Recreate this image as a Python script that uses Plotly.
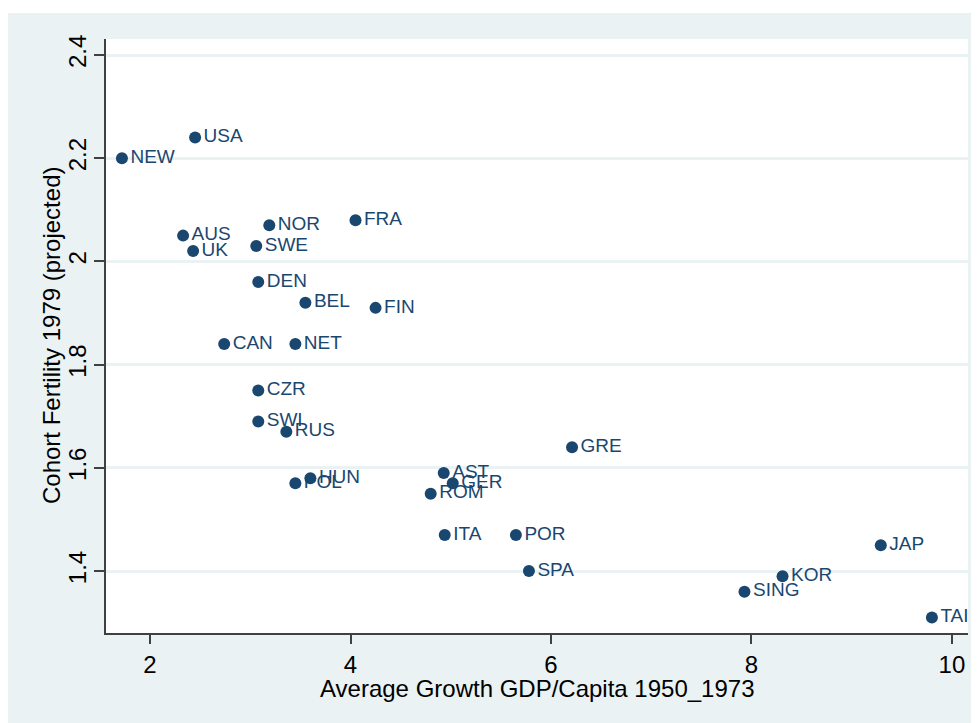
import plotly.graph_objects as go

# country codes and values
countries = ['NEW', 'USA', 'AUS', 'UK', 'NOR', 'SWE', 'FRA', 'DEN', 'BEL', 'FIN',
             'CAN', 'NET', 'CZR', 'SWI', 'RUS', 'HUN', 'POL', 'AST', 'GER', 'ROM',
             'ITA', 'GRE', 'POR', 'SPA', 'SING', 'KOR', 'JAP', 'TAI']
gdp_growth = [1.72, 2.45, 2.33, 2.43, 3.19, 3.06, 4.05, 3.08, 3.55, 4.25,
              2.74, 3.45, 3.08, 3.08, 3.36, 3.60, 3.45, 4.93, 5.02, 4.80,
              4.94, 6.21, 5.65, 5.78, 7.93, 8.31, 9.29, 9.80]
fertility = [2.20, 2.24, 2.05, 2.02, 2.07, 2.03, 2.08, 1.96, 1.92, 1.91,
             1.84, 1.84, 1.75, 1.69, 1.67, 1.58, 1.57, 1.59, 1.57, 1.55,
             1.47, 1.64, 1.47, 1.40, 1.36, 1.39, 1.45, 1.31]

x_ticks = [2, 4, 6, 8, 10]
y_ticks = [1.4, 1.6, 1.8, 2.0, 2.2, 2.4]
y_ticktext = ['1.4', '1.6', '1.8', '2', '2.2', '2.4']

navy = '#1a476f'
bg = '#eaf2f3'
font = 'Liberation Sans, Arial, sans-serif'

fig = go.Figure()
fig.add_trace(go.Scatter(
    x=gdp_growth, y=fertility, text=countries,
    mode='markers+text', textposition='middle right',
    marker=dict(color=navy, size=12),
    textfont=dict(color=navy, size=19, family=font),
    cliponaxis=False, showlegend=False,
))

# thin white strip above the grey background
fig.add_shape(type='rect', xref='paper', yref='paper', x0=-0.3, x1=1.2, y0=1.0438, y1=1.3,
              fillcolor='white', line_width=0, layer='below')

# axis titles as annotations so they sit where the original has them
fig.add_annotation(text='Cohort Fertility 1979 (projected)', textangle=-90,
                   xref='paper', yref='paper', x=0, y=0.5, xanchor='center', yanchor='middle',
                   xshift=-55, showarrow=False, font=dict(size=24, color='black'))
fig.add_annotation(text='Average Growth GDP/Capita 1950_1973',
                   xref='paper', yref='paper', x=0.5, y=0, xanchor='center', yanchor='middle',
                   yshift=-55, showarrow=False, font=dict(size=24, color='black'))

fig.update_layout(
    width=971, height=715,
    margin=dict(l=98, r=11, t=31, b=90),
    paper_bgcolor=bg, plot_bgcolor='white',
    font=dict(family=font, color='black'),
)
fig.update_xaxes(
    range=[1.561, 10.16], tickvals=x_ticks, showgrid=False, zeroline=False,
    showline=True, linecolor='#404040', linewidth=1.5,
    ticks='outside', ticklen=9, tickcolor='#404040', tickwidth=1.5,
    tickfont=dict(size=24),
)
fig.update_yaxes(
    range=[1.28, 2.431], tickvals=y_ticks, ticktext=y_ticktext, tickangle=-90,
    showgrid=True, gridcolor=bg, gridwidth=3, zeroline=False,
    showline=True, linecolor='#404040', linewidth=1.5,
    ticks='outside', ticklen=10, tickcolor='#404040', tickwidth=1.5,
    ticklabelstandoff=-1, tickfont=dict(size=24),
)

fig.write_html('out.html')
